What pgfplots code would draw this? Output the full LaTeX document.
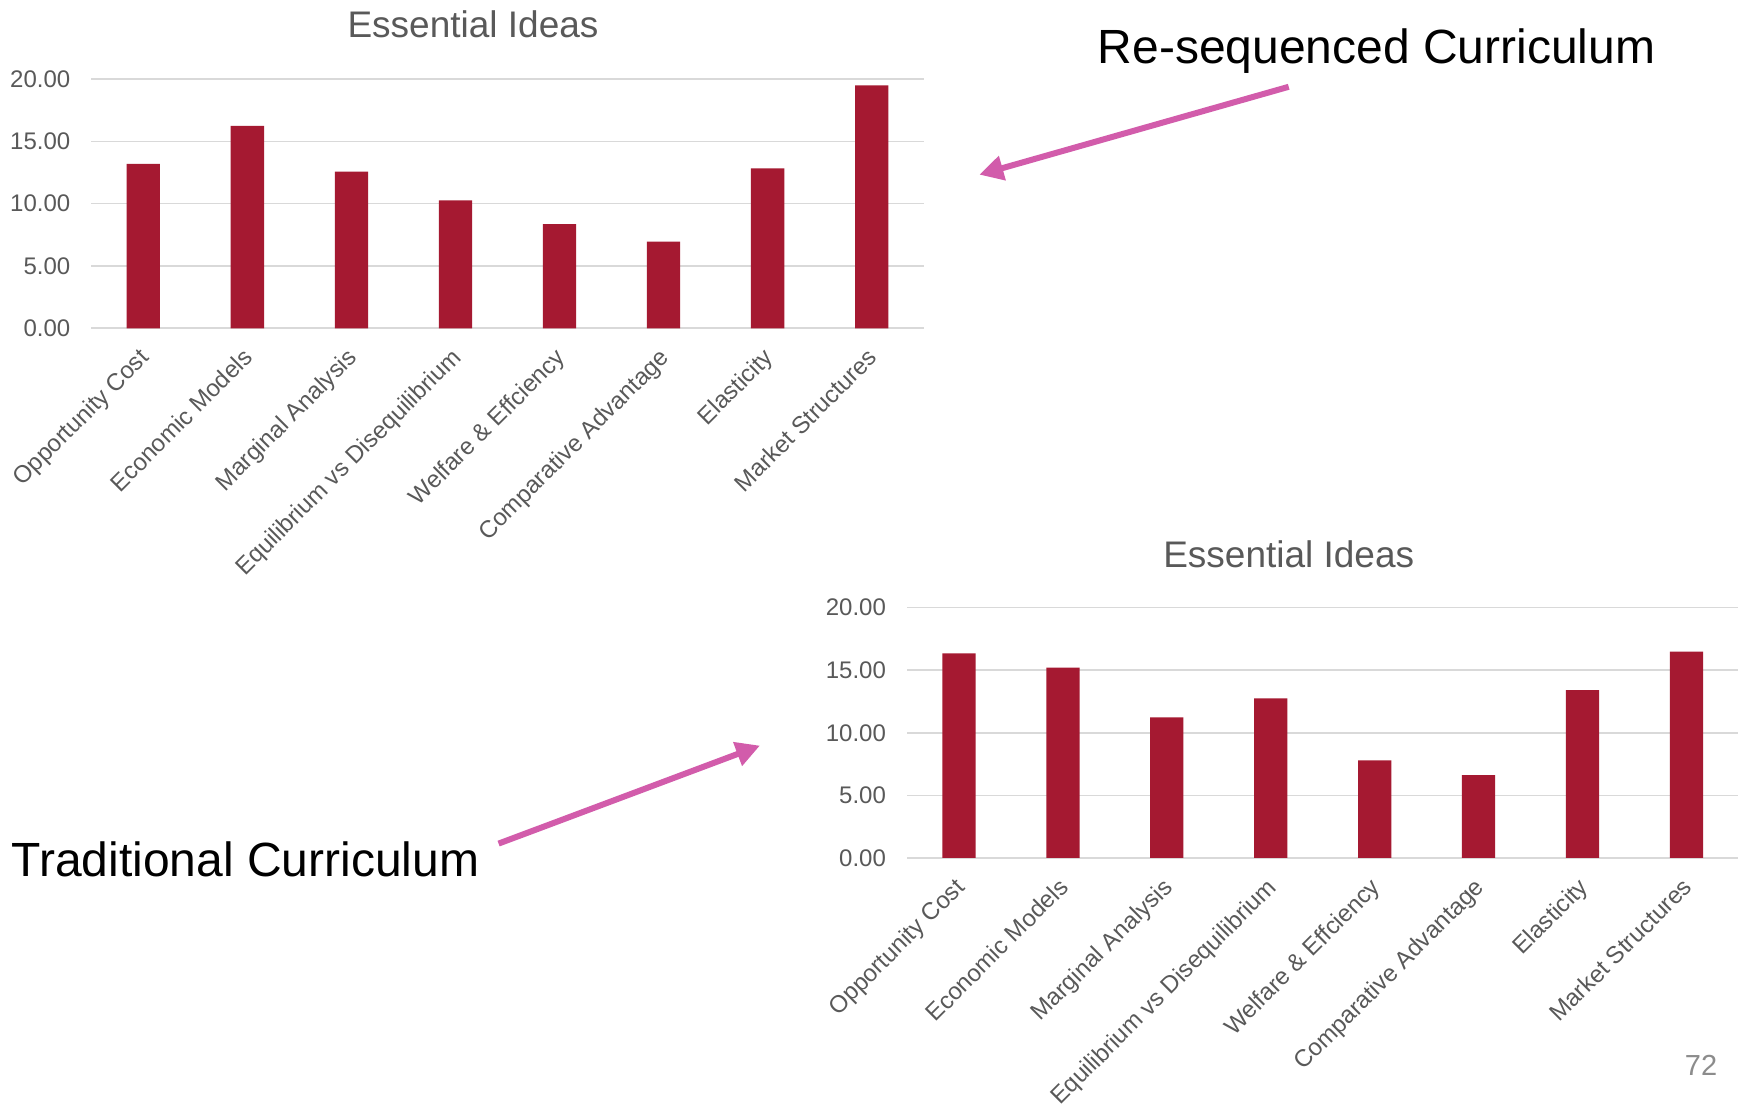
\documentclass[border=0pt]{standalone}
\usepackage{fontspec}
\setmainfont{Liberation Sans}
\usepackage{pgfplots}
\pgfplotsset{compat=1.18}
\usetikzlibrary{arrows.meta}

\definecolor{barred}{HTML}{A51931}
\definecolor{gridgray}{HTML}{D9D9D9}
\definecolor{labelgray}{HTML}{595959}
\definecolor{arrowpink}{HTML}{D25CAB}
\definecolor{pagegray}{HTML}{8C8C8C}

\pgfplotsset{
  ideas/.style={
    scale only axis,
    anchor=south west,
    xmin=-0.5, xmax=7.5,
    ymin=0, ymax=20,
    axis line style={draw=none},
    major tick length=0pt,
    ymajorgrids,
    grid style={gridgray, line width=0.8pt},
    ytick={0,5,10,15,20},
    yticklabels={0.00,5.00,10.00,15.00,20.00},
    xtick={0,...,7},
    xticklabels={Opportunity Cost,Economic Models,Marginal Analysis,Equilibrium vs Disequilibrium,Welfare \& Effciency,Comparative Advantage,Elasticity,Market Structures},
    tick label style={font=\fontsize{12}{14}\selectfont, text=labelgray},
    yticklabel style={xshift=-7pt},
    % shifts act along the rotated label
    xticklabel style={rotate=45, anchor=north east, yshift=-3.4pt, xshift=-7.3pt, inner sep=1pt},
  },
  essential bars/.style={ybar, bar width=0.32, bar shift=0pt, fill=barred, draw=none, mark=none},
}

\begin{document}
\begin{tikzpicture}
\path[use as bounding box, fill=white] (0,0) rectangle (872.5pt,551.5pt);

% Re-sequenced curriculum
\begin{axis}[ideas, at={(45.65pt,387.35pt)}, width=416.2pt, height=124.65pt]
  \addplot[essential bars] coordinates {(0,13.20) (1,16.24) (2,12.56) (3,10.27) (4,8.35) (5,6.96) (6,12.83) (7,19.49)};
\end{axis}

% Traditional curriculum
\begin{axis}[ideas, at={(453.5pt,122.5pt)}, width=415.7pt, height=125.2pt]
  \addplot[essential bars] coordinates {(0,16.35) (1,15.20) (2,11.23) (3,12.75) (4,7.79) (5,6.61) (6,13.41) (7,16.48)};
\end{axis}

% chart titles
\node[text=labelgray, font=\fontsize{18.5}{20}\selectfont] at (236.5pt,539.25pt) {Essential Ideas};
\node[text=labelgray, font=\fontsize{18.5}{20}\selectfont] at (644.35pt,274.4pt) {Essential Ideas};

% curriculum captions
\node[font=\fontsize{24}{26}\selectfont] at (688.3pt,525.9pt) {Re-sequenced Curriculum};
\node[font=\fontsize{24}{26}\selectfont, anchor=west, inner sep=0pt] at (5.55pt,122pt) {Traditional Curriculum};

% pointer arrows
\draw[arrowpink, line width=3pt, -{Triangle[length=12pt,width=12pt]}] (644.35pt,508.1pt) -- (489.65pt,464.15pt);
\draw[arrowpink, line width=3pt, -{Triangle[length=12pt,width=12pt]}] (249.3pt,129.7pt) -- (380pt,178.7pt);

% slide number
\node[text=pagegray, font=\fontsize{14.5}{16}\selectfont] at (850.5pt,19pt) {72};
\end{tikzpicture}
\end{document}
